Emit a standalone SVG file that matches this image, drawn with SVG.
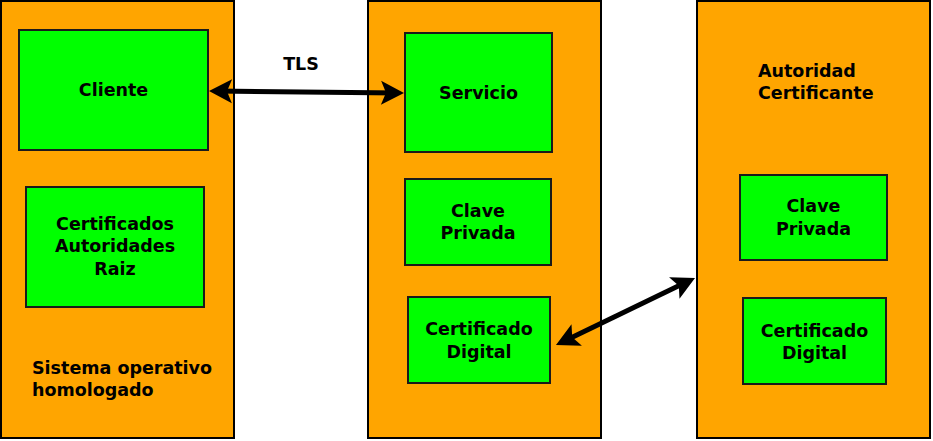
<svg xmlns="http://www.w3.org/2000/svg" width="933" height="441" viewBox="0 0 933 441">
<style>
.sys{fill:#ffa500;stroke:#000;stroke-width:2}
.box{fill:#00ff00;stroke:#1a1a1a;stroke-width:2}
text{font-family:"DejaVu Sans",sans-serif;font-weight:bold;font-size:17.5px;fill:#000}
.c{text-anchor:middle}
.conn{stroke:#000;stroke-width:5;fill:none;marker-start:url(#ah);marker-end:url(#ah)}
</style>
<defs>
<marker id="ah" markerUnits="userSpaceOnUse" viewBox="-20 -12 28 24" refX="0" refY="0" markerWidth="28" markerHeight="24" orient="auto-start-reverse" overflow="visible">
<path d="M6,0 L-17,-12 L-12,0 L-17,12 Z" fill="#000"/>
</marker>
</defs>
<g id="sistema">
<rect class="sys" x="1" y="1" width="233" height="437"/>
<text x="32" y="374">Sistema operativo</text>
<text x="32" y="396">homologado</text>
</g>
<g id="servidor">
<rect class="sys" x="368" y="1" width="233" height="437"/>
</g>
<g id="ca">
<rect class="sys" x="697" y="1" width="233" height="437"/>
<text x="758" y="77">Autoridad</text>
<text x="758" y="99">Certificante</text>
</g>
<g id="cliente">
<rect class="box" x="19" y="30" width="189" height="120"/>
<text class="c" x="113.5" y="96">Cliente</text>
</g>
<g id="certs-raiz">
<rect class="box" x="26" y="187" width="178" height="120"/>
<text class="c" x="115" y="230">Certificados</text>
<text class="c" x="115" y="252">Autoridades</text>
<text class="c" x="115" y="275">Raiz</text>
</g>
<g id="servicio">
<rect class="box" x="405" y="33" width="147" height="119"/>
<text class="c" x="478.5" y="99">Servicio</text>
</g>
<g id="clave-srv">
<rect class="box" x="405" y="179" width="146" height="86"/>
<text class="c" x="478" y="217">Clave</text>
<text class="c" x="478" y="239">Privada</text>
</g>
<g id="cert-srv">
<rect class="box" x="408" y="297" width="142" height="86"/>
<text class="c" x="479" y="335">Certificado</text>
<text class="c" x="479" y="358">Digital</text>
</g>
<g id="clave-ca">
<rect class="box" x="740" y="175" width="147" height="85"/>
<text class="c" x="813.5" y="212">Clave</text>
<text class="c" x="813.5" y="235">Privada</text>
</g>
<g id="cert-ca">
<rect class="box" x="743" y="298" width="143" height="86"/>
<text class="c" x="814.5" y="337">Certificado</text>
<text class="c" x="814.5" y="359">Digital</text>
</g>
<g id="connectors">
<line class="conn" x1="215" y1="91.06" x2="398" y2="92.94"/>
<text class="c" x="301" y="70">TLS</text>
<line class="conn" x1="561.4" y1="342.4" x2="689.6" y2="280.6"/>
</g>
</svg>
